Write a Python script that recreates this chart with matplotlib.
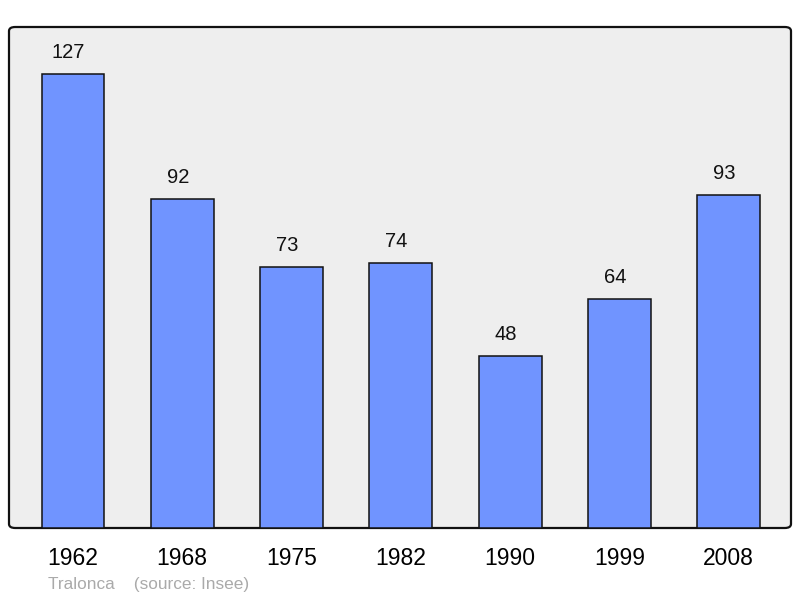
import matplotlib.pyplot as plt
from matplotlib.patches import FancyBboxPatch

plt.rcParams['font.family'] = ['Liberation Sans', 'DejaVu Sans']

years = ["1962", "1968", "1975", "1982", "1990", "1999", "2008"]
population = [127, 92, 73, 74, 48, 64, 93]

fig = plt.figure(figsize=(8, 5.98), dpi=100)
ax = fig.add_axes([9 / 800, 1 - 528 / 598, 782 / 800, 501 / 598])
ax.set_xlim(-0.585, 6.57)
ax.set_ylim(0, 140)
ax.set_facecolor("none")

# fond arrondi
frame = FancyBboxPatch((0, 0), 1, 1, boxstyle="round,pad=0,rounding_size=0.008",
                       transform=ax.transAxes, facecolor="#eeeeee",
                       edgecolor="#111111", linewidth=1.6, zorder=0, clip_on=False)
ax.add_patch(frame)

x = range(len(years))
ax.bar(x, population, width=0.575, color="#7094ff", edgecolor="#111111",
       linewidth=1.1, zorder=2)

for i, v in enumerate(population):
    ax.text(i - 0.04, v + 3.3, str(v), ha="center", va="bottom", fontsize=14.5,
            color="#111111")

for s in ax.spines.values():
    s.set_visible(False)
ax.set_yticks([])
ax.set_xticks(list(x))
ax.set_xticklabels(years, fontsize=16.5)
ax.tick_params(axis="x", length=0, pad=13.5)

fig.text(48 / 800, 1 - 584 / 598, "Tralonca    (source: Insee)", fontsize=12.4,
         color="#aaaaaa", ha="left", va="center")

plt.savefig("out.png", dpi=100)
